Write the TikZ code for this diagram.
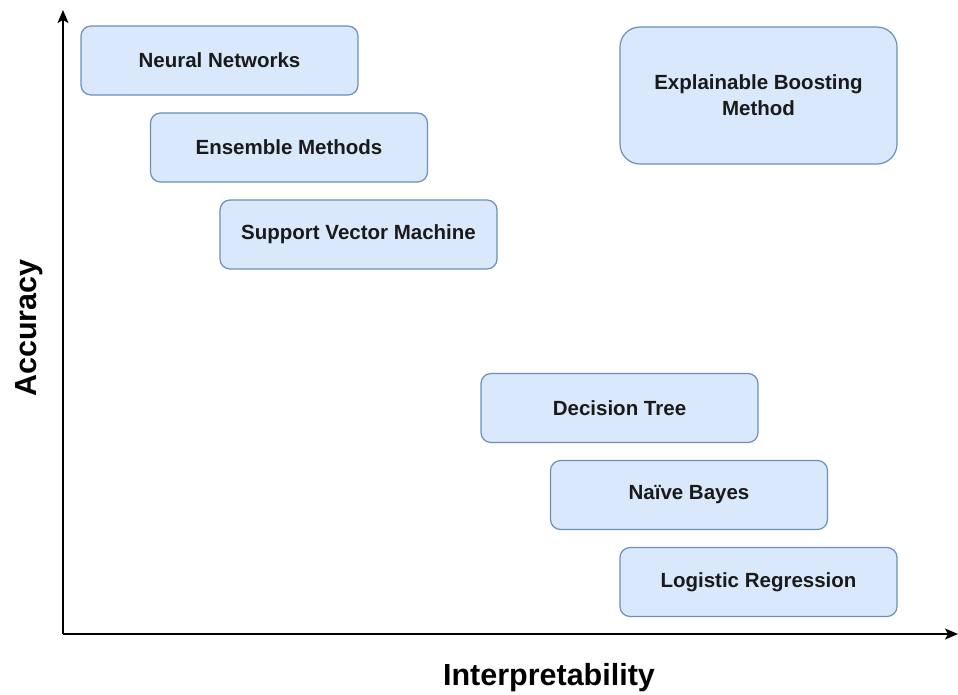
\documentclass[tikz,border=0pt]{standalone}
\usepackage{fontspec}
\setmainfont{Liberation Sans}
\usetikzlibrary{arrows.meta}
\definecolor{boxfill}{HTML}{DAE8FC}
\definecolor{boxline}{HTML}{6C8EBF}
\definecolor{boxtext}{HTML}{1A1A1A}
\tikzset{
  method/.style={draw=boxline, fill=boxfill, line width=1.2pt, rounded corners=10pt,
    minimum width=277pt, minimum height=69pt, inner sep=0pt,
    text=boxtext, font=\fontsize{20.5}{26}\selectfont\bfseries, align=center},
  axis/.style={line width=1.6pt, -{Stealth[length=13pt,width=11pt,inset=3pt]}},
  axislabel/.style={font=\fontsize{30.5}{36}\selectfont\bfseries, text=black, inner sep=0pt}
}
\begin{document}
\begin{tikzpicture}[x=1pt,y=-1pt]
  \useasboundingbox (0,0) rectangle (958,694);
  % axes
  \coordinate (origin) at (63,634);
  \coordinate (ytop) at (63,10);
  \coordinate (xend) at (958,634);
  \draw[axis] (origin) -- (ytop);
  \draw[axis] (origin) -- (xend);
  \node[axislabel] (xlab) at (549,678) {Interpretability};
  \node[axislabel, rotate=90] (ylab) at (29,328) {Accuracy};
  % model boxes
  \node[method] (nn)  at (219.5,60.5) {Neural Networks};
  \node[method] (ens) at (289,147.5) {Ensemble Methods};
  \node[method] (svm) at (358.5,234.5) {Support Vector Machine};
  \node[method, minimum height=137pt, rounded corners=20pt] (ebm) at (758.5,95.5) {Explainable Boosting\\Method};
  \node[method] (dt)  at (619.5,408) {Decision Tree};
  \node[method] (nb)  at (689,495) {Naïve Bayes};
  \node[method] (lr)  at (758.5,582) {Logistic Regression};
\end{tikzpicture}
\end{document}
